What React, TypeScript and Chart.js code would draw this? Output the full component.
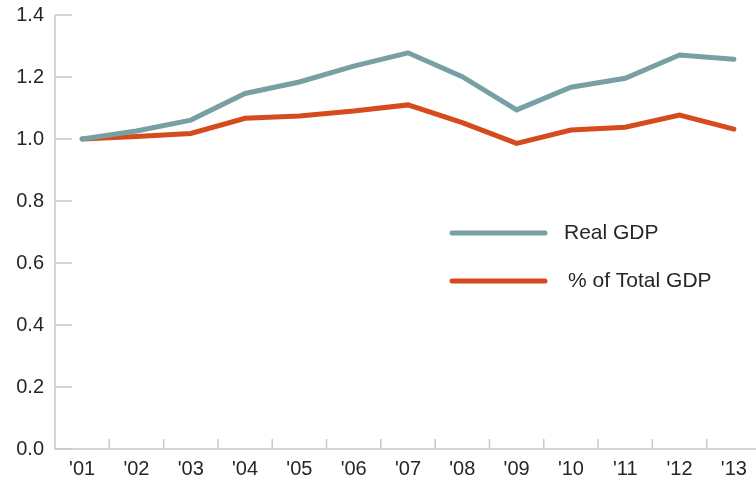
import React, { useEffect, useRef } from "react";
import { Chart, registerables } from "chart.js";

Chart.register(...registerables);

const years = ["'01", "'02", "'03", "'04", "'05", "'06", "'07", "'08", "'09", "'10", "'11", "'12", "'13"];
const realGDP = [1.0, 1.026, 1.061, 1.147, 1.184, 1.235, 1.278, 1.201, 1.094, 1.167, 1.196, 1.271, 1.257];
const shareGDP = [1.0, 1.008, 1.018, 1.067, 1.074, 1.09, 1.11, 1.053, 0.986, 1.029, 1.038, 1.077, 1.032];
const seriesNames = ["Real GDP", "% of Total GDP"];
const seriesColors = ["#77a0a4", "#d54b1e"];

const AXIS_COLOR = "#c9c9c9";
const TEXT_COLOR = "#262626";
const FONT = "'Liberation Sans', Arial, sans-serif";

const axesPlugin = {
  id: "customAxes",
  beforeDatasetsDraw(chart: any) {
    const { ctx, chartArea, scales } = chart;
    const x = scales.x;
    const y = scales.y;
    ctx.save();
    ctx.strokeStyle = AXIS_COLOR;
    ctx.lineWidth = 1.5;
    ctx.beginPath();
    ctx.moveTo(chartArea.left, chartArea.top);
    ctx.lineTo(chartArea.left, chartArea.bottom);
    ctx.lineTo(chart.width, chartArea.bottom);
    ctx.stroke();
    y.ticks.forEach((t: any) => {
      const py = y.getPixelForValue(t.value);
      ctx.beginPath();
      ctx.moveTo(chartArea.left, py);
      ctx.lineTo(chartArea.left + 17, py);
      ctx.stroke();
    });
    for (let i = 1; i < years.length; i++) {
      const px = (x.getPixelForValue(i - 1) + x.getPixelForValue(i)) / 2;
      ctx.beginPath();
      ctx.moveTo(px, chartArea.bottom);
      ctx.lineTo(px, chartArea.bottom - 10);
      ctx.stroke();
    }
    ctx.restore();
  },
};

const legendPlugin = {
  id: "customLegend",
  afterDraw(chart: any) {
    const { ctx } = chart;
    const rows = [
      { y: 233, x0: 452, x1: 545, tx: 564 },
      { y: 281, x0: 452, x1: 545, tx: 568 },
    ];
    ctx.save();
    rows.forEach((r, i) => {
      ctx.strokeStyle = seriesColors[i];
      ctx.lineWidth = 5;
      ctx.lineCap = "round";
      ctx.beginPath();
      ctx.moveTo(r.x0, r.y);
      ctx.lineTo(r.x1, r.y);
      ctx.stroke();
      ctx.fillStyle = TEXT_COLOR;
      ctx.font = `21px ${FONT}`;
      ctx.textBaseline = "middle";
      ctx.textAlign = "left";
      ctx.fillText(seriesNames[i], r.tx, r.y);
    });
    ctx.restore();
  },
};

export default function App() {
  const ref = useRef<HTMLCanvasElement | null>(null);
  useEffect(() => {
    if (!ref.current) return;
    const chart = new Chart(ref.current, {
      type: "line",
      data: {
        labels: years,
        datasets: [
          {
            label: seriesNames[0],
            data: realGDP,
            borderColor: seriesColors[0],
            borderWidth: 5,
            pointRadius: 0,
            tension: 0,
            borderCapStyle: "round",
            borderJoinStyle: "miter",
          },
          {
            label: seriesNames[1],
            data: shareGDP,
            borderColor: seriesColors[1],
            borderWidth: 5,
            pointRadius: 0,
            tension: 0,
            borderCapStyle: "round",
            borderJoinStyle: "miter",
          },
        ],
      },
      options: {
        responsive: false,
        animation: false,
        layout: { padding: { top: 15, right: 3, left: 0, bottom: 0 } },
        plugins: { legend: { display: false }, tooltip: { enabled: false } },
        scales: {
          x: {
            offset: true,
            grid: { display: false, drawTicks: false },
            border: { display: false },
            ticks: { color: TEXT_COLOR, font: { family: FONT, size: 20 }, padding: 8, maxRotation: 0 },
            afterFit: (s: any) => {
              s.height = 31;
            },
          },
          y: {
            min: 0,
            max: 1.4,
            grid: { display: false, drawTicks: true, tickLength: 11 },
            border: { display: false },
            ticks: {
              stepSize: 0.2,
              color: TEXT_COLOR,
              font: { family: FONT, size: 20 },
              padding: 0,
              callback: (v: any) => Number(v).toFixed(1),
            },
            afterFit: (s: any) => {
              s.width = 55;
            },
          },
        },
      },
      plugins: [axesPlugin, legendPlugin],
    });
    return () => chart.destroy();
  }, []);
  return (
    <div style={{ position: "absolute", left: 0, top: 0, width: 756, height: 480, overflow: "hidden", background: "#fff" }}>
      <canvas ref={ref} width={764} height={480} style={{ display: "block", width: 764, height: 480 }} />
    </div>
  );
}
